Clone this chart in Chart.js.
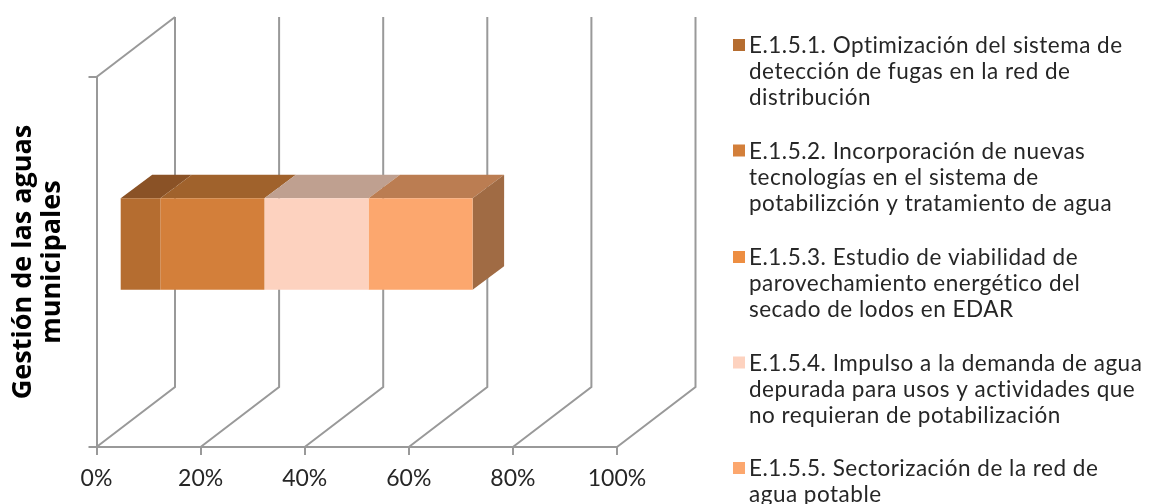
<!DOCTYPE html>
<html><head><meta charset="utf-8">
<style>html,body{margin:0;padding:0;background:#fff}#w{position:relative;width:1157px;height:504px}canvas{display:block}</style>
<script src="https://cdn.jsdelivr.net/npm/chart.js@4/dist/chart.umd.min.js"></script>
</head><body><div id="w"><canvas id="c" width="1157" height="504"></canvas></div>
<script>
const categories = ['Gestión de las aguas municipales'];
const axisTitleLines = ['Gestión de las aguas', 'municipales'];
const seriesNames = ['E.1.5.1.', 'E.1.5.2.', 'E.1.5.3.', 'E.1.5.4.', 'E.1.5.5.'];
const seriesValues = [7.8, 20, 0, 20, 20];
const frontColors = ['#B56D30', '#D37F3A', '#ED8E42', '#FDD2BF', '#FCA76E'];
const topColors = ['#8A5226', '#A0622C', '#B56C32', '#BFA090', '#BB7D52'];
const sideColors = ['#8A5226', '#A0622C', '#B56C32', '#BFA090', '#A06B44'];
const xTicks = [0, 20, 40, 60, 80, 100];
const legendLines = [
  ['E.1.5.1. Optimización del sistema de', 'detección de fugas en la red de', 'distribución'],
  ['E.1.5.2. Incorporación de nuevas', 'tecnologías en el sistema de', 'potabilizción y tratamiento de agua'],
  ['E.1.5.3. Estudio de viabilidad de', 'parovechamiento energético del', 'secado de lodos en EDAR'],
  ['E.1.5.4. Impulso a la demanda de agua', 'depurada para usos y actividades que', 'no requieran de potabilización'],
  ['E.1.5.5. Sectorización de la red de', 'agua potable']
];
const legendTop = [53, 158.5, 265, 370.5, 476];
const FONT = 'Lato, "Open Sans", sans-serif';
const GRID = '#999999';
const wall = {dx: 78.5, dy: 60};
const barShift = {dx: 23.2, dy: 18};
const barDepth = {dx: 31.5, dy: 23.5};

const threeD = {
  id: 'threeD',
  beforeDatasetsDraw(chart) {
    const {ctx, scales: {x, y}} = chart;
    const bottom = y.bottom, top = y.top;
    ctx.save();
    ctx.strokeStyle = GRID; ctx.lineWidth = 2; ctx.lineJoin = 'miter';
    xTicks.forEach(v => {
      const px = x.getPixelForValue(v);
      ctx.beginPath();
      ctx.moveTo(px, bottom);
      ctx.lineTo(px + wall.dx, bottom - wall.dy);
      ctx.lineTo(px + wall.dx, top - wall.dy);
      ctx.stroke();
    });
    const p0 = x.getPixelForValue(0);
    ctx.beginPath(); ctx.moveTo(p0, top); ctx.lineTo(p0 + wall.dx, top - wall.dy); ctx.stroke();
    let last = null;
    chart.data.datasets.forEach((d, i) => {
      const el = chart.getDatasetMeta(i).data[0];
      if (!el || Math.abs(el.x - el.base) < 0.01) return;
      const x0 = el.base + barShift.dx, x1 = el.x + barShift.dx;
      const yTop = el.y - el.height / 2 - barShift.dy;
      ctx.fillStyle = topColors[i];
      ctx.beginPath();
      ctx.moveTo(x0, yTop); ctx.lineTo(x1, yTop);
      ctx.lineTo(x1 + barDepth.dx, yTop - barDepth.dy); ctx.lineTo(x0 + barDepth.dx, yTop - barDepth.dy);
      ctx.closePath(); ctx.fill();
      last = {x1, yTop, h: el.height, i};
    });
    if (last) {
      ctx.fillStyle = sideColors[last.i];
      ctx.beginPath();
      ctx.moveTo(last.x1, last.yTop); ctx.lineTo(last.x1 + barDepth.dx, last.yTop - barDepth.dy);
      ctx.lineTo(last.x1 + barDepth.dx, last.yTop - barDepth.dy + last.h);
      ctx.lineTo(last.x1, last.yTop + last.h);
      ctx.closePath(); ctx.fill();
    }
    ctx.restore();
    ctx.save();
    ctx.translate(barShift.dx, -barShift.dy);
  },
  afterDatasetsDraw(chart) {
    const {ctx} = chart;
    ctx.restore();
    ctx.save();
    ctx.textBaseline = 'alphabetic'; ctx.textAlign = 'left';
    ctx.font = '22.5px ' + FONT;
    ctx.letterSpacing = '0.5px';
    ctx.fillStyle = '#262626';
    legendLines.forEach((lines, i) => {
      ctx.save();
      ctx.fillStyle = frontColors[i];
      ctx.fillRect(733, legendTop[i] - 14, 12, 12);
      ctx.restore();
      lines.forEach((t, k) => ctx.fillText(t, 749, legendTop[i] + k * 26.2));
    });
    ctx.restore();
  }
};

new Chart(document.getElementById('c'), {
  type: 'bar',
  data: {
    labels: categories,
    datasets: seriesNames.map((n, i) => ({
      label: n, data: [seriesValues[i]], backgroundColor: frontColors[i], borderWidth: 0,
      barPercentage: 0.247, categoryPercentage: 1, clip: false
    }))
  },
  options: {
    indexAxis: 'y', responsive: false, animation: false, devicePixelRatio: 1,
    layout: {padding: {top: 77, right: 540, left: 0, bottom: 0}},
    plugins: {legend: {display: false}, tooltip: {enabled: false}},
    scales: {
      x: {
        stacked: true, min: 0, max: 100,
        afterFit: s => { s.height = 57; },
        afterBuildTicks: s => { s.ticks = xTicks.map(v => ({value: v})); },
        grid: {drawOnChartArea: false, color: GRID, lineWidth: 2, tickLength: 8},
        border: {color: GRID, width: 2},
        ticks: {color: '#262626', font: {family: FONT, size: 23}, padding: 10, maxRotation: 0, callback: v => v + '%'}
      },
      y: {
        stacked: true,
        afterFit: s => { s.width = 96.5; },
        grid: {drawOnChartArea: false, color: GRID, lineWidth: 2, tickLength: 8, offset: true},
        border: {color: GRID, width: 2},
        ticks: {callback: () => ''},
        title: {display: true, text: axisTitleLines, color: '#000', font: {family: '"Open Sans", sans-serif', size: 27, weight: 'bold', lineHeight: 1.07}, padding: {top: 9, bottom: 0}}
      }
    }
  },
  plugins: [threeD]
});
</script></body></html>
